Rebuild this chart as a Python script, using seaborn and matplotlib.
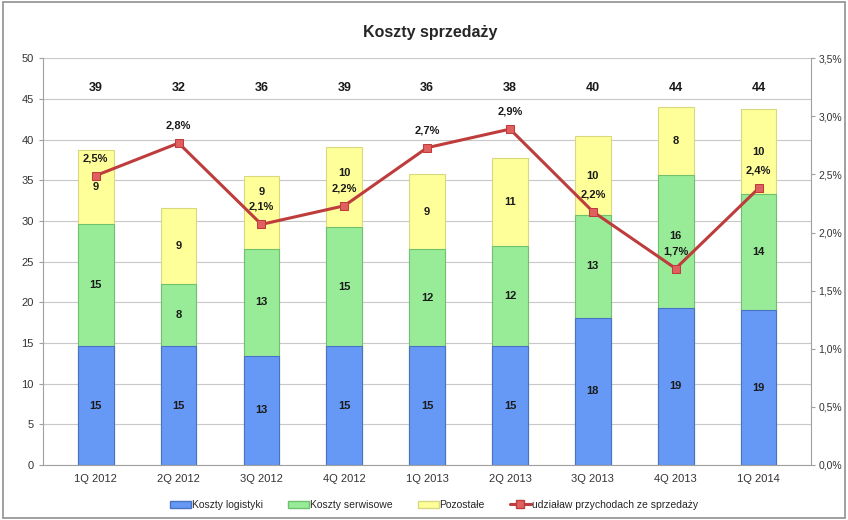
import matplotlib
matplotlib.use('Agg')
import matplotlib.pyplot as plt
import seaborn as sns
import pandas as pd
from matplotlib.patches import Rectangle, Patch
from matplotlib.lines import Line2D
from matplotlib.ticker import FuncFormatter

quarters = ['1Q 2012', '2Q 2012', '3Q 2012', '4Q 2012', '1Q 2013',
            '2Q 2013', '3Q 2013', '4Q 2013', '1Q 2014']
logistics = [14.6, 14.6, 13.4, 14.6, 14.6, 14.6, 18.1, 19.3, 19.0]
service = [15.0, 7.7, 13.2, 14.6, 11.9, 12.3, 12.6, 16.3, 14.3]
other = [9.1, 9.3, 8.9, 9.9, 9.3, 10.8, 9.7, 8.4, 10.4]
share = [2.49, 2.77, 2.07, 2.23, 2.73, 2.89, 2.18, 1.69, 2.38]

c_blue = '#6699f5'
c_green = '#98ec98'
c_yellow = '#ffff99'
c_line = '#be3c3c'

sns.set_style('white')
plt.rcParams['font.family'] = ['Liberation Sans', 'DejaVu Sans']

df = pd.DataFrame({'q': quarters, 'log': logistics, 'serv': service, 'oth': other, 'share': share})
df['lvl2'] = df['log'] + df['serv']
df['total'] = df['lvl2'] + df['oth']

fig = plt.figure(figsize=(8.48, 5.2), dpi=100)
ax = fig.add_axes([0.0507, 0.106, 0.906, 0.782])

# stacked bars drawn tallest first
sns.barplot(data=df, x='q', y='total', color=c_yellow, edgecolor='#d8d880',
            linewidth=0.8, width=0.43, saturation=1, ax=ax)
sns.barplot(data=df, x='q', y='lvl2', color=c_green, edgecolor='#70c070',
            linewidth=0.8, width=0.43, saturation=1, ax=ax)
sns.barplot(data=df, x='q', y='log', color=c_blue, edgecolor='#4a72c4',
            linewidth=0.8, width=0.43, saturation=1, ax=ax)

ax.set_ylim(0, 50)
ax.set_yticks(range(0, 51, 5))
ax.set_xlabel('')
ax.set_ylabel('')
ax.yaxis.grid(True, color='#c8c8c8', linewidth=0.8)
ax.set_axisbelow(True)
for s in ['top', 'right']:
    ax.spines[s].set_visible(False)
for s in ['left', 'bottom']:
    ax.spines[s].set_color('#a0a0a0')
ax.tick_params(axis='both', labelsize=8, colors='#333333', length=3, color='#a0a0a0')

# segment labels; nudge a label up if it sits on the percentage label
for i, row in df.iterrows():
    pct_y = row['share'] / 3.5 * 50 + 2.1
    segs = [(row['log'] / 2, row['log']),
            (row['log'] + row['serv'] / 2, row['serv']),
            (row['lvl2'] + row['oth'] / 2, row['oth'])]
    for y, v in segs:
        if abs(y - pct_y) < 1.6:
            y = pct_y + 1.9
        ax.text(i, y, f'{v:.0f}', ha='center', va='center',
                fontsize=8, fontweight='bold', color='#1a1a1a')
    ax.text(i, 46.3, f"{row['total']:.0f}", ha='center', va='center',
            fontsize=9, fontweight='bold', color='#1a1a1a')

ax2 = ax.twinx()
sns.lineplot(data=df, x='q', y='share', color=c_line, linewidth=2.2, marker='s',
             markersize=6, markerfacecolor='#e06060', markeredgecolor=c_line, ax=ax2)
ax2.set_ylim(0, 3.5)
ax2.set_yticks([i * 0.5 for i in range(8)])
ax2.yaxis.set_major_formatter(FuncFormatter(lambda v, p: f'{v:.1f}%'.replace('.', ',')))
ax2.set_ylabel('')
ax2.set_xlabel('')
for s in ['top', 'left', 'bottom']:
    ax2.spines[s].set_visible(False)
ax2.spines['right'].set_color('#a0a0a0')
ax2.tick_params(axis='y', labelsize=7.5, colors='#333333', length=3, pad=2,
                color='#a0a0a0')
for i, v in enumerate(share):
    ax2.annotate(f'{v:.1f}%'.replace('.', ','), (i, v), xytext=(0, 9),
                 textcoords='offset points', ha='center', va='bottom',
                 fontsize=8, fontweight='bold', color='#1a1a1a')

fig.text(0.507, 0.937, 'Koszty sprzedaży', ha='center', va='center',
         fontsize=11.5, fontweight='bold')

handles = [Patch(facecolor=c_blue, edgecolor='#4a72c4'),
           Patch(facecolor=c_green, edgecolor='#70c070'),
           Patch(facecolor=c_yellow, edgecolor='#d8d880'),
           Line2D([0], [0], color=c_line, lw=2.2, marker='s', markersize=6,
                  markerfacecolor='#e06060')]
labels = ['Koszty logistyki', 'Koszty serwisowe', 'Pozostałe',
          'udziaław przychodach ze sprzedaży']
fig.legend(handles, labels, loc='center', bbox_to_anchor=(0.512, 0.029), ncol=4,
           frameon=False, fontsize=7.5, handlelength=2.0, handletextpad=0.1,
           columnspacing=2.4)

fig.patches.append(Rectangle((0.004, 0.004), 0.992, 0.992, transform=fig.transFigure,
                             fill=False, edgecolor='#909090', linewidth=1.2))

fig.savefig('out.png', dpi=100)
